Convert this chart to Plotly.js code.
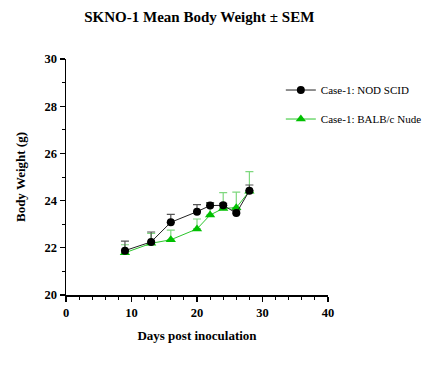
<!DOCTYPE html>
<html><head><meta charset="utf-8">
<script src="https://cdn.plot.ly/plotly-3.0.1.min.js"></script>
<style>html,body{margin:0;padding:0;background:#fff}#chart{width:440px;height:368px}</style>
</head><body><div id="chart"></div>
<script>
const days = [9, 13, 16, 20, 22, 24, 26, 28];
const nodScidMean = [21.88, 22.25, 23.08, 23.53, 23.79, 23.80, 23.47, 24.42];
const nodScidSem  = [0.40, 0.42, 0.34, 0.30, 0.12, 0.08, 0.10, 0.24];
const nudeMean = [21.79, 22.19, 22.34, 22.80, 23.39, 23.67, 23.70, 24.40];
const nudeSem  = [0.34, 0.42, 0.41, 0.42, 0.50, 0.67, 0.66, 0.83];
const zeros = days.map(() => 0);
const serif = 'Liberation Serif';

const traces = [
  {x: days, y: nudeMean, name: 'Case-1: BALB/c Nude', type: 'scatter', mode: 'lines+markers',
   legendgroup: 'b', legendrank: 2,
   line: {color: '#2bc52b', width: 1}, marker: {symbol: 'triangle-up', size: 9, color: '#00c000'},
   error_y: {type: 'data', array: nudeSem, arrayminus: zeros, symmetric: false, color: '#7ed87e', thickness: 1.2, width: 4}},
  {x: days, y: nodScidMean, name: 'Case-1: NOD SCID', type: 'scatter', mode: 'lines+markers',
   legendgroup: 'a', legendrank: 1,
   line: {color: '#222222', width: 1}, marker: {symbol: 'circle', size: 8, color: '#000000'},
   error_y: {type: 'data', array: nodScidSem, arrayminus: zeros, symmetric: false, color: '#555555', thickness: 1.2, width: 4}}
];

const layout = {
  width: 440, height: 368,
  margin: {l: 66, r: 112, t: 59, b: 73},
  paper_bgcolor: '#fff', plot_bgcolor: '#fff',
  font: {family: serif, color: '#000'},
  title: {text: '<b>SKNO-1 Mean Body Weight ± SEM</b>', font: {family: serif, size: 15, color: '#000'},
          x: 0.453, xref: 'container', y: 0.955, yref: 'container', xanchor: 'center', yanchor: 'middle'},
  xaxis: {range: [0, 40], tickvals: [0, 10, 20, 30, 40], showgrid: false, zeroline: false,
          showline: true, linecolor: '#000', linewidth: 1.5, ticks: 'outside', ticklen: 5, tickwidth: 1.2,
          tickcolor: '#000', tickfont: {family: serif, size: 12.5, color: '#000', weight: 700},
          minor: {dtick: 2, ticks: 'outside', ticklen: 3, tickcolor: '#000', tickwidth: 1},
          title: {text: '<b>Days post inoculation</b>', font: {family: serif, size: 13, color: '#000'}, standoff: 12}},
  yaxis: {range: [20, 30], tickvals: [20, 22, 24, 26, 28, 30], showgrid: false, zeroline: false,
          showline: true, linecolor: '#000', linewidth: 1.5, ticks: 'outside', ticklen: 5, tickwidth: 1.2,
          tickcolor: '#000', tickfont: {family: serif, size: 12.5, color: '#000', weight: 700},
          minor: {dtick: 1, ticks: 'outside', ticklen: 3, tickcolor: '#000', tickwidth: 1},
          title: {text: '<b>Body Weight (g)</b>', font: {family: serif, size: 13, color: '#000'}, standoff: 16}},
  legend: {x: 0.82, y: 0.93, xanchor: 'left', yanchor: 'top', traceorder: 'grouped', tracegroupgap: 10,
           font: {family: serif, size: 11, color: '#000'}, bgcolor: 'rgba(0,0,0,0)'},
  showlegend: true
};

Plotly.newPlot('chart', traces, layout, {staticPlot: true, displayModeBar: false});
</script></body></html>
